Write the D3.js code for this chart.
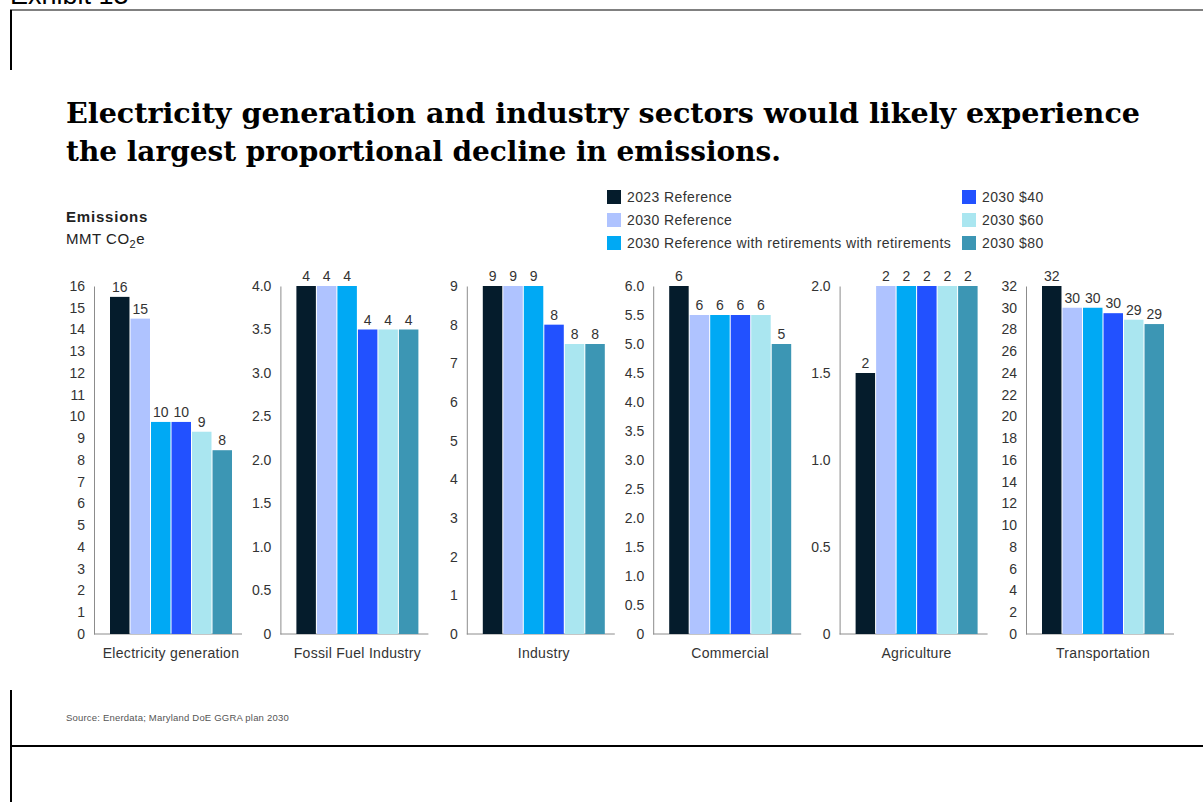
<!DOCTYPE html>
<html lang="en">
<head>
<meta charset="UTF-8">
<title>Emissions by sector</title>
<script src="https://cdn.jsdelivr.net/npm/d3@7"></script>
<style>
    * { margin: 0; padding: 0; }
    body { background: #fff; }
    text { font-family: "Liberation Sans", Arial, sans-serif; }
</style>
</head>
<body>
<script>
    const width = 1203
    const height = 802

    // sectors and scenarios
    const categories = ["Electricity generation", "Fossil Fuel Industry", "Industry", "Commercial", "Agriculture", "Transportation"]
    const seriesNames = ["2023 Reference", "2030 Reference", "2030 Reference with retirements with retirements", "2030 $40", "2030 $60", "2030 $80"]
    const colors = ["#051c2c", "#afc3ff", "#00a9f4", "#2251ff", "#aae6f0", "#3c96b4"]

    // values per sector, one per scenario
    const electricity = [15.5, 14.5, 9.75, 9.75, 9.3, 8.45]
    const fossilFuel = [4, 4, 4, 3.5, 3.5, 3.5]
    const industry = [9, 9, 9, 8, 7.5, 7.5]
    const commercial = [6, 5.5, 5.5, 5.5, 5.5, 5]
    const agriculture = [1.5, 2, 2, 2, 2, 2]
    const transportation = [32, 30, 30, 29.5, 28.9, 28.5]
    const values = [electricity, fossilFuel, industry, commercial, agriculture, transportation]

    // y axis per panel
    const axisMax = [16, 4, 9, 6, 2, 32]
    const tickStep = [1, 0.5, 1, 0.5, 0.5, 2]
    const tickFormat = [".0f", ".1f", ".0f", ".1f", ".1f", ".0f"]

    const svg = d3.select('body')
        .append('svg')
        .attr('width', width)
        .attr('height', height)

    // frame
    svg.append('text')
        .attr('x', 10).attr('y', 4)
        .style('font-size', '27px').attr('fill', '#000')
        .text('Exhibit 13')
    svg.append('line').attr('x1', 10).attr('x2', width).attr('y1', 10).attr('y2', 10)
        .attr('stroke', '#808080').attr('stroke-width', 2)
    svg.append('line').attr('x1', 11).attr('x2', 11).attr('y1', 10).attr('y2', 70)
        .attr('stroke', '#000').attr('stroke-width', 2)
    svg.append('line').attr('x1', 11).attr('x2', 11).attr('y1', 690).attr('y2', height)
        .attr('stroke', '#000').attr('stroke-width', 2)
    svg.append('line').attr('x1', 10).attr('x2', width).attr('y1', 746).attr('y2', 746)
        .attr('stroke', '#000').attr('stroke-width', 2)

    // title
    const titleLines = ["Electricity generation and industry sectors would likely experience", "the largest proportional decline in emissions."]
    const titleWidths = [1074, 715]
    svg.selectAll('.title')
        .data(titleLines)
        .enter()
        .append('text')
        .attr('class', 'title')
        .attr('x', 66)
        .attr('y', (d, i) => 123 + i * 38)
        .attr('textLength', (d, i) => titleWidths[i])
        .attr('lengthAdjust', 'spacingAndGlyphs')
        .style('font-family', '"DejaVu Serif", serif')
        .style('font-weight', 'bold')
        .style('font-size', '28.5px')
        .attr('fill', '#000')
        .text(d => d)

    // unit label
    svg.append('text').attr('x', 66).attr('y', 222)
        .style('font-size', '15px').style('letter-spacing', '0.8px')
        .style('font-weight', 'bold').attr('fill', '#222')
        .text('Emissions')
    const unit = svg.append('text').attr('x', 66).attr('y', 244)
        .style('font-size', '15px').style('letter-spacing', '0.5px').attr('fill', '#222')
    unit.append('tspan').text('MMT CO')
    unit.append('tspan').attr('dy', 4).style('font-size', '11px').text('2')
    unit.append('tspan').attr('dy', -4).text('e')

    // legend
    const legendX = [607, 962]
    const legend = svg.selectAll('.legend')
        .data(seriesNames)
        .enter()
        .append('g')
        .attr('class', 'legend')
        .attr('transform', (d, i) => 'translate(' + legendX[Math.floor(i / 3)] + ',' + (190 + (i % 3) * 23) + ')')
    legend.append('rect')
        .attr('width', 14).attr('height', 14)
        .attr('fill', (d, i) => colors[i])
    legend.append('text')
        .attr('x', 20).attr('y', 12)
        .style('font-size', '14px').style('letter-spacing', '0.4px')
        .attr('fill', '#333')
        .text(d => d)

    // panels
    const baseY = 634
    const topY = 286
    const panelX = d3.scaleLinear().domain([0, 5]).range([94, 1026])

    categories.forEach((cat, p) => {
        const ax = panelX(p)
        const g = svg.append('g')

        const y = d3.scaleLinear()
            .domain([0, axisMax[p]])
            .range([baseY, topY])
        const x = d3.scaleBand()
            .domain(seriesNames)
            .range([ax + 16, ax + 138])
            .paddingInner(0.05)

        const fmt = d3.format(tickFormat[p])
        const yAxis = d3.axisLeft(y)
            .tickValues(d3.range(0, axisMax[p] + tickStep[p] / 2, tickStep[p]))
            .tickFormat(d => d === 0 ? '0' : fmt(d))
            .tickSize(0)
            .tickSizeOuter(0)
            .tickPadding(9)

        const axisG = g.append('g')
            .attr('transform', 'translate(' + ax + ',0)')
            .call(yAxis)
        axisG.select('.domain').attr('stroke', '#8c8c8c')
        axisG.selectAll('text')
            .style('font-family', '"Liberation Sans", Arial, sans-serif')
            .style('font-size', '14px')
            .attr('fill', '#333')

        g.append('line')
            .attr('x1', ax).attr('x2', ax + 148)
            .attr('y1', baseY).attr('y2', baseY)
            .attr('stroke', '#8c8c8c')

        g.selectAll('.bar')
            .data(values[p])
            .enter()
            .append('rect')
            .attr('class', 'bar')
            .attr('x', (d, i) => x(seriesNames[i]))
            .attr('y', d => y(d))
            .attr('width', x.bandwidth())
            .attr('height', d => baseY - y(d))
            .attr('fill', (d, i) => colors[i])

        g.selectAll('.val')
            .data(values[p])
            .enter()
            .append('text')
            .attr('class', 'val')
            .attr('x', (d, i) => x(seriesNames[i]) + x.bandwidth() / 2)
            .attr('y', d => y(d) - 5)
            .attr('text-anchor', 'middle')
            .style('font-size', '14px')
            .attr('fill', '#333')
            .text(d => d3.format('.0f')(d))

        g.append('text')
            .attr('x', ax + 77)
            .attr('y', 658)
            .attr('text-anchor', 'middle')
            .style('font-size', '14px')
            .style('letter-spacing', '0.3px')
            .attr('fill', '#333')
            .text(cat)
    })

    // source
    svg.append('text').attr('x', 66).attr('y', 721)
        .style('font-size', '9.5px').style('letter-spacing', '0.2px').attr('fill', '#555')
        .text('Source: Enerdata; Maryland DoE GGRA plan 2030')
</script>
</body>
</html>
